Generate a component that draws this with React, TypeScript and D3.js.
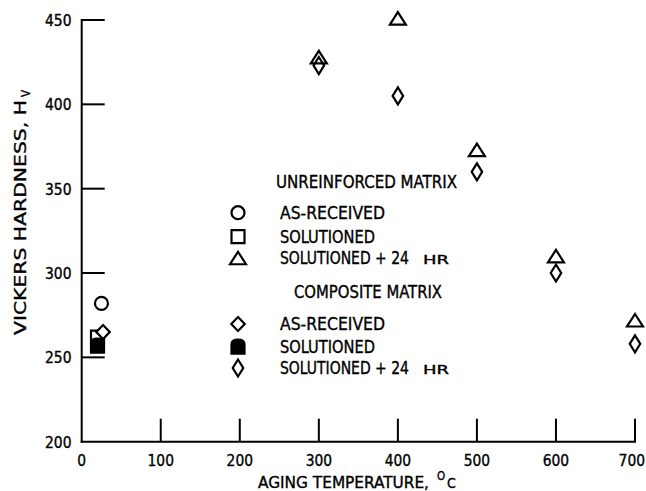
import React from "react";
import * as d3 from "d3";

const W = 646;
const H = 491;

// Data: aging temperature (°C) vs Vickers hardness (Hv)
const unreinforcedAsReceived = [{ t: 25, hv: 282 }];
const unreinforcedSolutioned = [{ t: 20, hv: 262 }];
const unreinforcedAgedT = [300, 400, 500, 600, 700];
const unreinforcedAgedHv = [428, 451, 373, 310, 272];
const compositeAsReceived = [{ t: 27, hv: 265 }];
const compositeSolutioned = [{ t: 20, hv: 257 }];
const compositeAgedT = [300, 400, 500, 600, 700];
const compositeAgedHv = [423, 405, 360, 300, 258];

const xTicks = [0, 100, 200, 300, 400, 500, 600, 700];
const yTicks = [200, 250, 300, 350, 400, 450];

const FONT = "'DejaVu Sans Condensed', 'DejaVu Sans', sans-serif";
const SW = 2.2;

const circlePath = (r: number) =>
  `M ${-r},0 A ${r} ${r} 0 1 0 ${r},0 A ${r} ${r} 0 1 0 ${-r},0 Z`;
const squarePath = (s: number) =>
  `M ${-s / 2},${-s / 2} H ${s / 2} V ${s / 2} H ${-s / 2} Z`;
const trianglePath = (w: number, h: number) =>
  `M 0,${-h / 2} L ${w / 2},${h / 2} L ${-w / 2},${h / 2} Z`;
const diamondPath = (w: number, h: number) =>
  `M 0,${-h / 2} L ${w / 2},0 L 0,${h / 2} L ${-w / 2},0 Z`;
const bulletPath = (w: number, h: number) => {
  const r = w / 2;
  return `M ${-r},${h / 2} V ${-h / 2 + r * 0.7} Q ${-r},${-h / 2} 0,${-h / 2} Q ${r},${-h / 2} ${r},${-h / 2 + r * 0.7} V ${h / 2} Z`;
};

const markers: Record<string, { d: string; fill: string }> = {
  circle: { d: circlePath(6.5), fill: "none" },
  square: { d: squarePath(13), fill: "none" },
  triangle: { d: trianglePath(16, 12.5), fill: "none" },
  diamondWide: { d: diamondPath(13.5, 14), fill: "#fff" },
  bullet: { d: bulletPath(13, 14), fill: "#000" },
  diamondTall: { d: diamondPath(10.5, 17), fill: "none" },
};

function Marker({ kind, x, y }: { kind: string; x: number; y: number }) {
  const m = markers[kind];
  return (
    <path
      d={m.d}
      transform={`translate(${x},${y})`}
      fill={m.fill}
      stroke="#000"
      strokeWidth={SW}
      strokeLinejoin="miter"
    />
  );
}

const T = { stroke: "#000", strokeWidth: 0.35, fill: "#000" };
const SX = 0.86;

export default function App() {
  const x = d3.scaleLinear().domain([0, 700]).range([81.7, 635]);
  const y = d3.scaleLinear().domain([200, 450]).range([441.7, 20]);

  const unrAged = unreinforcedAgedT.map((t, i) => ({ t, hv: unreinforcedAgedHv[i] }));
  const compAged = compositeAgedT.map((t, i) => ({ t, hv: compositeAgedHv[i] }));

  const legendX = 238;
  const textX = 280;
  const legendRows = [
    { kind: "circle", y: 212.7, label: "AS-RECEIVED", len: 105, hr: false },
    { kind: "square", y: 236.7, label: "SOLUTIONED", len: 95, hr: false },
    { kind: "triangle", y: 258, label: "SOLUTIONED + 24", len: 129, hr: true },
    { kind: "diamondWide", y: 324, label: "AS-RECEIVED", len: 105, hr: false },
    { kind: "bullet", y: 346.7, label: "SOLUTIONED", len: 95, hr: false },
    { kind: "diamondTall", y: 368, label: "SOLUTIONED + 24", len: 129, hr: true },
  ];

  return (
    <svg
      width={W}
      height={H}
      style={{ position: "absolute", left: 0, top: 0, background: "#fff" }}
      fontFamily={FONT}
    >
      <rect width={W} height={H} fill="#fff" />
      {/* axes */}
      <line x1={x(0)} x2={x(0)} y1={y(450) - 1} y2={y(200) + 1} stroke="#000" strokeWidth={2} />
      <line x1={x(0) - 1} x2={x(700) + 1} y1={y(200)} y2={y(200)} stroke="#000" strokeWidth={2} />
      {yTicks.filter((v) => v > 200).map((v) => (
        <line key={"yt" + v} x1={x(0)} x2={x(0) + 23} y1={y(v)} y2={y(v)} stroke="#000" strokeWidth={2} />
      ))}
      {xTicks.filter((v) => v > 0).map((v) => (
        <line key={"xt" + v} x1={x(v)} x2={x(v)} y1={y(200)} y2={y(200) - 23} stroke="#000" strokeWidth={2} />
      ))}
      {yTicks.map((v) => (
        <text key={"yl" + v} x={71.5} y={y(v) + 6} textAnchor="end" fontSize={16} textLength={26.5} lengthAdjust="spacingAndGlyphs" {...T}>
          {v}
        </text>
      ))}
      {xTicks.map((v) => {
        const s = String(v);
        const w = s.length * 8.8;
        const cx = Math.min(x(v), 645 - w / 2);
        return (
          <text key={"xl" + v} x={cx - w / 2} y={465.5} fontSize={16} textLength={w} lengthAdjust="spacingAndGlyphs" {...T}>
            {s}
          </text>
        );
      })}
      {/* x title */}
      <text x={258} y={488} fontSize={16.5} textLength={171} lengthAdjust="spacingAndGlyphs" {...T}>
        AGING TEMPERATURE,
      </text>
      <text x={437} y={480} fontSize={11.5} {...T}>O</text>
      <text x={447} y={488} fontSize={14} {...T}>C</text>
      {/* y title */}
      <g transform="translate(25.5,335) rotate(-90)">
        <text x={0} y={0} fontSize={16.5} textLength={235} lengthAdjust="spacingAndGlyphs" {...T}>
          VICKERS HARDNESS, H
        </text>
        <text x={238} y={4} fontSize={11.5} {...T}>V</text>
      </g>

      {/* legend */}
      <text x={276} y={188.3} fontSize={17.5} textLength={181} lengthAdjust="spacingAndGlyphs" {...T}>
        UNREINFORCED MATRIX
      </text>
      <text x={294} y={298} fontSize={17.5} textLength={148} lengthAdjust="spacingAndGlyphs" {...T}>
        COMPOSITE MATRIX
      </text>
      {legendRows.map((r, i) => (
        <g key={"lg" + i}>
          <Marker kind={r.kind} x={legendX} y={r.y} />
          <g transform={`translate(${textX},${r.y + 6.3}) scale(${SX},1)`}>
            <text x={0} y={0} fontSize={17.5} textLength={r.len / SX} lengthAdjust="spacingAndGlyphs" {...T}>
              {r.label}
            </text>
          </g>
          {r.hr && (
            <text x={423} y={r.y + 6.3} fontSize={12.5} textLength={26} lengthAdjust="spacingAndGlyphs" {...T}>
              HR
            </text>
          )}
        </g>
      ))}

      {/* data */}
      {compAged.map((d, i) => (
        <Marker key={"ca" + i} kind="diamondTall" x={x(d.t)} y={y(d.hv)} />
      ))}
      {unrAged.map((d, i) => (
        <Marker key={"ua" + i} kind="triangle" x={x(d.t)} y={y(d.hv)} />
      ))}
      {unreinforcedAsReceived.map((d, i) => (
        <Marker key={"uar" + i} kind="circle" x={x(d.t)} y={y(d.hv)} />
      ))}
      {unreinforcedSolutioned.map((d, i) => (
        <Marker key={"us" + i} kind="square" x={x(d.t)} y={y(d.hv)} />
      ))}
      {compositeSolutioned.map((d, i) => (
        <Marker key={"cs" + i} kind="bullet" x={x(d.t)} y={y(d.hv)} />
      ))}
      {compositeAsReceived.map((d, i) => (
        <Marker key={"car" + i} kind="diamondWide" x={x(d.t)} y={y(d.hv)} />
      ))}
    </svg>
  );
}
